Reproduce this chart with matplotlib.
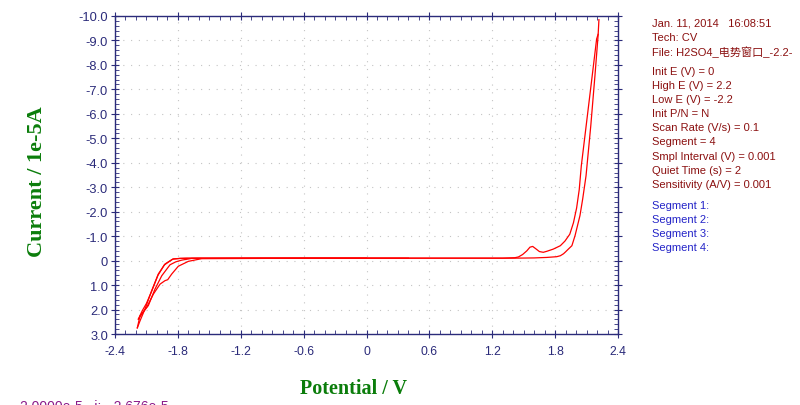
import matplotlib
matplotlib.use("Agg")
import matplotlib.pyplot as plt
from matplotlib.ticker import MultipleLocator, FuncFormatter

# potential (V) / current (1e-5 A)
seg1_e = [0.0, -0.8, -1.5, -1.72, -1.78, -1.843, -1.88, -1.923, -1.987, -2.05, -2.114, -2.161, -2.187]
seg1_i = [-0.1, -0.1, -0.1, -0.1, -0.09, -0.07, 0.02, 0.14, 0.55, 1.23, 1.98, 2.46, 2.75]

seg2_e = [-2.187, -2.161, -2.082, -2.018, -1.954, -1.875, -1.82, -1.763, -1.668, -1.0, 0.0, 1.0,
          1.40, 1.60, 1.72, 1.815, 1.85, 1.88, 1.90, 1.926, 1.96, 1.99, 2.037, 2.063, 2.095,
          2.14, 2.18, 2.21, 2.218]
seg2_i = [2.75, 2.25, 1.84, 1.16, 0.62, 0.17, 0.05, -0.02, -0.09, -0.1, -0.1, -0.1,
          -0.1, -0.11, -0.13, -0.16, -0.2, -0.28, -0.36, -0.47, -0.61, -1.02, -1.84, -2.52, -3.47,
          -5.5, -7.56, -9.2, -9.85]

seg3_e = [2.21, 2.196, 2.15, 2.10, 2.05, 2.03, 2.005, 1.975, 1.94, 1.894, 1.85, 1.782, 1.72,
          1.687, 1.65, 1.62, 1.586, 1.56, 1.53, 1.49, 1.45, 1.417, 1.3, 0.5, -0.5, -1.573,
          -1.70, -1.796, -1.859, -1.897, -1.923, -1.970, -2.034, -2.098, -2.177]
seg3_i = [-9.25, -9.06, -7.42, -5.65, -3.88, -2.9, -2.15, -1.55, -1.08, -0.8, -0.61, -0.47, -0.38,
          -0.34, -0.37, -0.47, -0.58, -0.55, -0.4, -0.25, -0.15, -0.12, -0.1, -0.1, -0.1, -0.08,
          0.03, 0.23, 0.55, 0.78, 0.82, 0.96, 1.37, 1.91, 2.39]

seg4_e = [-2.177, -2.14, -2.10, -2.05, -1.99, -1.93, -1.85, -1.78, -1.6, 0.4]
seg4_i = [2.39, 2.05, 1.75, 1.25, 0.6, 0.18, -0.06, -0.09, -0.1, -0.1]

info_lines = [
    "Init E (V) = 0",
    "High E (V) = 2.2",
    "Low E (V) = -2.2",
    "Init P/N = N",
    "Scan Rate (V/s) = 0.1",
    "Segment = 4",
    "Smpl Interval (V) = 0.001",
    "Quiet Time (s) = 2",
    "Sensitivity (A/V) = 0.001",
]
segment_lines = ["Segment 1:", "Segment 2:", "Segment 3:", "Segment 4:"]

navy = "#2b2b7a"
green = "#0b7d0b"
darkred = "#8b1010"
blue = "#2424c8"

fig = plt.figure(figsize=(8, 4.06), dpi=100)
ax = fig.add_axes([115 / 800, 1 - 335 / 406, 503 / 800, 318 / 406])

for e, i in [(seg1_e, seg1_i), (seg2_e, seg2_i), (seg3_e, seg3_i), (seg4_e, seg4_i)]:
    ax.plot(e, i, color="#ff0000", lw=0.9)

ax.set_xlim(-2.4, 2.4)
ax.set_ylim(3.0, -10.0)
ax.xaxis.set_major_locator(MultipleLocator(0.6))
ax.xaxis.set_minor_locator(MultipleLocator(0.1))
ax.yaxis.set_major_locator(MultipleLocator(1.0))
ax.yaxis.set_minor_locator(MultipleLocator(0.2))
ax.xaxis.set_major_formatter(FuncFormatter(lambda v, p: "0" if abs(v) < 1e-9 else f"{v:.1f}"))
ax.yaxis.set_major_formatter(FuncFormatter(lambda v, p: "0" if abs(v) < 1e-9 else f"{v:.1f}"))

ax.grid(True, which="major", color="#c4c4c4", linestyle=(0, (1, 6)), lw=0.8)
for s in ax.spines.values():
    s.set_color(navy)
    s.set_linewidth(1.0)

ax.tick_params(which="major", direction="inout", length=6, width=0.8, color=navy,
               labelcolor=navy, top=True, right=True,
               labeltop=False, labelright=False, pad=2)
ax.tick_params(which="minor", direction="in", length=3, width=0.6, color=navy,
               top=True, right=True)
ax.tick_params(axis="x", which="major", pad=5, labelsize=8.8)
ax.tick_params(axis="y", which="major", labelsize=9.3)
for lab in ax.get_xticklabels() + ax.get_yticklabels():
    lab.set_fontfamily("Liberation Sans")

fig.text(37.5 / 800, 1 - 182 / 406, "Current / 1e-5A", rotation=90, ha="center", va="center",
         color=green, fontsize=16, fontweight="bold", family="Liberation Serif")
fig.text(353 / 800, 1 - 389 / 406, "Potential / V", ha="center", va="center",
         color=green, fontsize=14.5, fontweight="bold", family="Liberation Serif")

fam = ["Liberation Sans", "Noto Sans CJK SC"]
x0 = 652 / 800
fig.text(x0, 1 - 24 / 406, "Jan. 11, 2014   16:08:51", color=darkred, fontsize=8,
         family=fam, va="center")
fig.text(x0, 1 - 38 / 406, "Tech: CV", color=darkred, fontsize=8, family=fam, va="center")
fig.text(x0, 1 - 52 / 406, "File: H2SO4_电势窗口_-2.2-", color=darkred, fontsize=8,
         family=fam, va="center")
for k, t in enumerate(info_lines):
    fig.text(x0, 1 - (72 + 14.1 * k) / 406, t, color=darkred, fontsize=8, family=fam, va="center")
for k, t in enumerate(segment_lines):
    fig.text(x0, 1 - (206 + 14 * k) / 406, t, color=blue, fontsize=8, family=fam, va="center")

# status line at the very bottom, only its top shows
fig.text(20 / 800, 1 - 400 / 406, "2.0000e-5   i:  -2.676e-5", color="#8a1a8a", fontsize=10,
         family="Liberation Sans", va="top")

fig.savefig("out.png", dpi=100)
